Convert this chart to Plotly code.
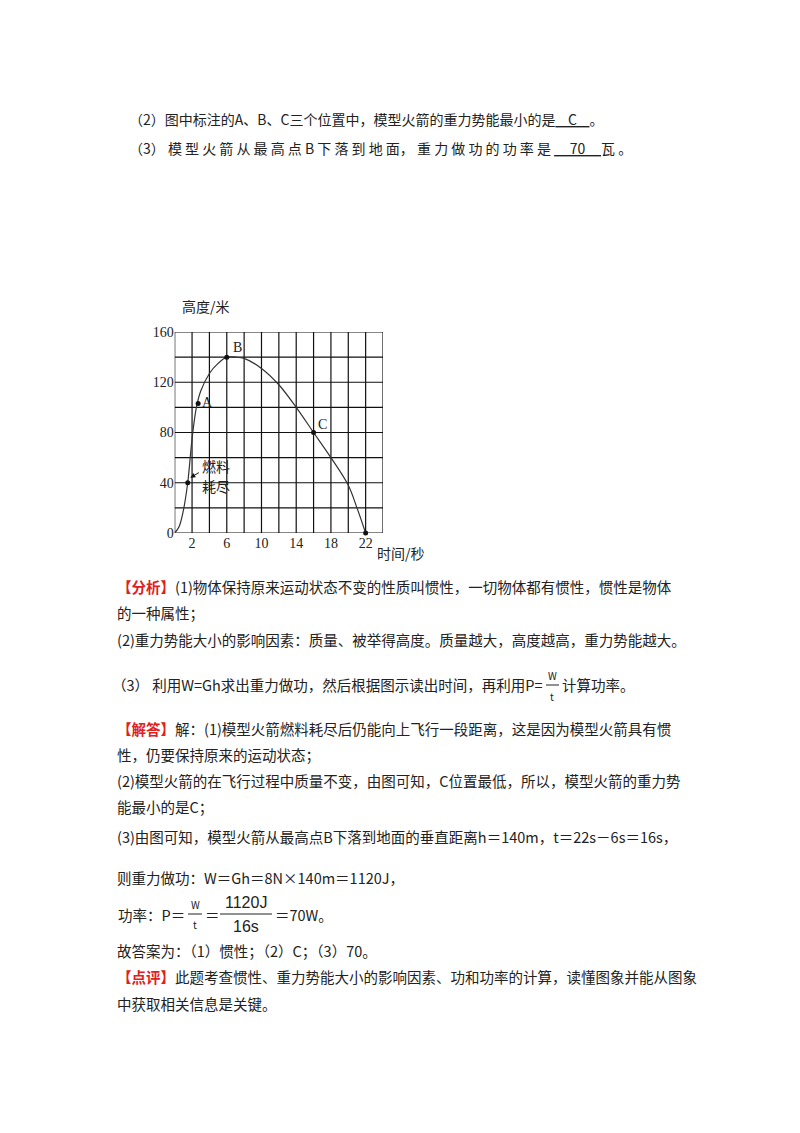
import plotly.graph_objects as go

W, H = 800, 1133
t_curve = [0, 0.5, 1, 1.5, 2, 2.5, 3, 4, 5, 6, 7, 8, 10, 12, 14, 16, 18, 20, 21, 22]
h_curve = [0, 5, 18, 40, 75, 100, 113, 127, 135, 140, 140, 139, 131, 118, 100, 80, 60, 38, 20, 0]
pt_t = [1.5, 2.7, 6, 16, 22]
pt_h = [40, 103, 140, 80, 0]
x_ticks = [2, 6, 10, 14, 18, 22]
y_ticks = [0, 40, 80, 120, 160]

x0, x1 = 166.7, 375.0
y0, y1 = 525.0, 324.0
def px(x): return x / W
def py(y): return 1 - y / H

fig = go.Figure()
fig.add_trace(go.Scatter(x=t_curve, y=h_curve, mode="lines", line=dict(color="#333", width=1.2, shape="spline"),
                         showlegend=False, hoverinfo="skip"))
fig.add_trace(go.Scatter(x=pt_t, y=pt_h, mode="markers", marker=dict(color="#111", size=5),
                         showlegend=False, cliponaxis=False))

F = "Noto Sans CJK SC"
FS = 14.5
fig.update_layout(
    width=W, height=H, margin=dict(l=0, r=0, t=0, b=0),
    paper_bgcolor="white", plot_bgcolor="white",
    font=dict(family=F, size=FS, color="#222"),
    xaxis=dict(domain=[px(x0), px(x1)], range=[0, 24], tickvals=x_ticks, automargin=False,
               showgrid=False, zeroline=False, showline=False, ticks="",
               tickfont=dict(family="Liberation Serif", size=14, color="#222")),
    yaxis=dict(domain=[py(y0), py(y1)], range=[0, 160], tickvals=y_ticks, automargin=False,
               showgrid=False, zeroline=False, showline=False, ticks="",
               tickfont=dict(family="Liberation Serif", size=14, color="#222")),
)
shapes = []
for g in range(0, 25, 2):
    shapes.append(dict(type="line", xref="x", yref="y", x0=g, x1=g, y0=0, y1=160, line=dict(color="#111", width=1.2), layer="below"))
for g in range(0, 161, 20):
    shapes.append(dict(type="line", xref="x", yref="y", x0=0, x1=24, y0=g, y1=g, line=dict(color="#111", width=1.2), layer="below"))
# fraction bars
shapes.append(dict(type="line", xref="paper", yref="paper", x0=px(538), x1=px(551), y0=py(677), y1=py(677), line=dict(color="#222", width=1)))
shapes.append(dict(type="line", xref="paper", yref="paper", x0=px(180), x1=px(194), y0=py(906), y1=py(906), line=dict(color="#222", width=1)))
shapes.append(dict(type="line", xref="paper", yref="paper", x0=px(212), x1=px(264), y0=py(906), y1=py(906), line=dict(color="#222", width=1)))
fig.update_layout(shapes=shapes)

ann = []
def txt(x, y, s, size=FS, color="#222", family=F, xanchor="left"):
    ann.append(dict(xref="paper", yref="paper", x=px(x), y=py(y), text=s, showarrow=False,
                    xanchor=xanchor, yanchor="middle", borderpad=0,
                    font=dict(size=size, color=color, family=family)))
# axes arrows
ann.append(dict(xref="x", yref="y", x=0, y=187, ax=0, ay=-3, axref="x", ayref="y", showarrow=True,
                arrowhead=2, arrowsize=1.2, arrowwidth=1.3, arrowcolor="#111", text=""))
ann.append(dict(xref="x", yref="y", x=27.8, y=0, ax=-0.3, ay=0, axref="x", ayref="y", showarrow=True,
                arrowhead=2, arrowsize=1.2, arrowwidth=1.3, arrowcolor="#111", text=""))
ann.append(dict(xref="x", yref="y", x=1.8, y=44, ax=10, ay=-6, showarrow=True, arrowhead=2, arrowsize=1,
                arrowwidth=1, arrowcolor="#111", text=""))
txt(173, 298, "高度/米", size=14)
txt(368, 545, "时间/秒", size=14)
txt(224, 339, "B", family="Liberation Serif", size=14)
txt(193, 395, "A", family="Liberation Serif", size=14)
txt(309, 416, "C", family="Liberation Serif", size=14)
txt(193, 458, "燃料", size=14)
txt(193, 478, "耗尽", size=14)

txt(120, 111, "（2）图中标注的A、B、C三个位置中，模型火箭的重力势能最小的是<u>&nbsp;&nbsp;&nbsp;&nbsp;C&nbsp;&nbsp;&nbsp;&nbsp;</u>。", size=14)
txt(120, 140, "（3）&nbsp;模&nbsp;型&nbsp;火&nbsp;箭&nbsp;从&nbsp;最&nbsp;高&nbsp;点&nbsp;B&nbsp;下&nbsp;落&nbsp;到&nbsp;地&nbsp;面，&nbsp;重&nbsp;力&nbsp;做&nbsp;功&nbsp;的&nbsp;功&nbsp;率&nbsp;是&nbsp;<u>&nbsp;&nbsp;&nbsp;&nbsp;&nbsp;70&nbsp;&nbsp;&nbsp;&nbsp;&nbsp;</u>瓦&nbsp;。", size=14)

txt(108, 578, "<b><span style='color:#e02020'>【分析】</span></b>(1)物体保持原来运动状态不变的性质叫惯性，一切物体都有惯性，惯性是物体")
txt(108, 604, "的一种属性；")
txt(108, 631, "(2)重力势能大小的影响因素：质量、被举得高度。质量越大，高度越高，重力势能越大。")
txt(536, 676, "（3） 利用W=Gh求出重力做功，然后根据图示读出时间，再利用P=", xanchor="right")
txt(544, 667, "W", size=10, xanchor="center")
txt(544, 688, "t", size=10, xanchor="center")
txt(553, 676, "计算功率。")
txt(108, 720, "<b><span style='color:#e02020'>【解答】</span></b>解：(1)模型火箭燃料耗尽后仍能向上飞行一段距离，这是因为模型火箭具有惯")
txt(108, 746, "性，仍要保持原来的运动状态；")
txt(108, 772, "(2)模型火箭的在飞行过程中质量不变，由图可知，C位置最低，所以，模型火箭的重力势")
txt(108, 799, "能最小的是C；")
txt(108, 828, "(3)由图可知，模型火箭从最高点B下落到地面的垂直距离h＝140m，t＝22s－6s＝16s，")
txt(108, 869, "则重力功：W＝Gh＝8N×140m＝1120J，".replace("重力功", "重力做功"))
txt(178, 906, "功率：P＝", xanchor="right")
txt(187, 896, "W", size=10, xanchor="center")
txt(187, 916, "t", size=10, xanchor="center")
txt(196, 906, "＝")
txt(238, 894, "1120J", size=16, xanchor="center", family="Liberation Sans")
txt(238, 918, "16s", size=16, xanchor="center", family="Liberation Sans")
txt(266, 906, "＝70W。")
txt(108, 942, "故答案为：（1）惯性；（2）C；（3）70。")
txt(108, 968, "<b><span style='color:#e02020'>【点评】</span></b>此题考查惯性、重力势能大小的影响因素、功和功率的计算，读懂图象并能从图象")
txt(108, 995, "中获取相关信息是关键。")
fig.update_layout(annotations=ann)
fig.write_html("out.html")
